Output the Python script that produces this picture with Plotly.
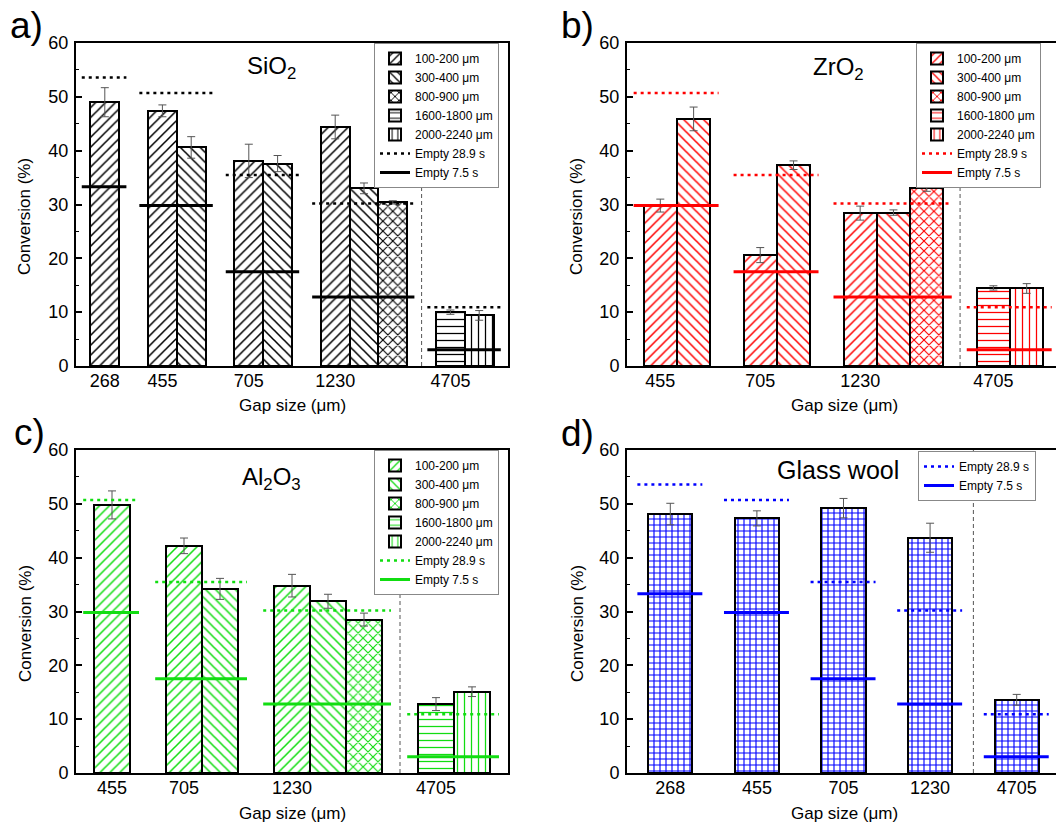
import plotly.graph_objects as go

W, H = 1056, 825
FONT = "Liberation Sans, Arial, sans-serif"

# ---------------- data ----------------
size_labels = ["100-200 μm", "300-400 μm", "800-900 μm", "1600-1800 μm", "2000-2240 μm"]
size_shapes = ["/", "\\", "x", "-", "|"]
shape_solidity = {"/": 0.22, "\\": 0.22, "x": 0.3, "-": 0.18, "|": 0.18}

# empty reactor references, by gap size
empty_gaps = ["268", "455", "705", "1230", "4705"]
empty_28_9 = [53.6, 50.7, 35.5, 30.2, 10.9]
empty_7_5 = [33.3, 29.8, 17.5, 12.8, 3.0]

# a) SiO2
sio2_gaps = ["268", "455", "705", "1230", "4705"]
sio2_100_200 = [49.0, 47.4, 38.1, 44.4, None]
sio2_300_400 = [None, 40.6, 37.6, 33.0, None]
sio2_800_900 = [None, None, None, 30.4, None]
sio2_1600_1800 = [None, None, None, None, 10.0]
sio2_2000_2240 = [None, None, None, None, 9.4]
sio2_100_200_err = [2.7, 1.1, 3.1, 2.2, None]
sio2_300_400_err = [None, 2.0, 1.5, 1.0, None]
sio2_800_900_err = [None, None, None, 0.3, None]
sio2_1600_1800_err = [None, None, None, None, 0.4]
sio2_2000_2240_err = [None, None, None, None, 0.9]

# b) ZrO2
zro2_gaps = ["455", "705", "1230", "4705"]
zro2_100_200 = [29.8, 20.6, 28.4, None]
zro2_300_400 = [45.9, 37.3, 28.5, None]
zro2_800_900 = [None, None, 33.1, None]
zro2_1600_1800 = [None, None, None, 14.5]
zro2_2000_2240 = [None, None, None, 14.4]
zro2_100_200_err = [1.2, 1.4, 1.3, None]
zro2_300_400_err = [2.2, 0.8, 0.5, None]
zro2_800_900_err = [None, None, 0.65, None]
zro2_1600_1800_err = [None, None, None, 0.4]
zro2_2000_2240_err = [None, None, None, 0.9]

# c) Al2O3
al2o3_gaps = ["455", "705", "1230", "4705"]
al2o3_100_200 = [49.8, 42.2, 34.8, None]
al2o3_300_400 = [None, 34.2, 31.9, None]
al2o3_800_900 = [None, None, 28.5, None]
al2o3_1600_1800 = [None, None, None, 12.8]
al2o3_2000_2240 = [None, None, None, 15.1]
al2o3_100_200_err = [2.6, 1.45, 2.1, None]
al2o3_300_400_err = [None, 1.95, 1.3, None]
al2o3_800_900_err = [None, None, 1.2, None]
al2o3_1600_1800_err = [None, None, None, 1.2]
al2o3_2000_2240_err = [None, None, None, 0.9]

# d) Glass wool
gw_gaps = ["268", "455", "705", "1230", "4705"]
gw_values = [48.1, 47.3, 49.2, 43.7, 13.6]
gw_err = [2.0, 1.4, 1.8, 2.7, 1.0]


def px(x):
    return x / W


def py(y):
    return 1 - y / H


fig = go.Figure()
annotations = []
shapes = []
layout = {}


def axis_common():
    return dict(showline=True, linecolor="black", linewidth=2, showgrid=False,
                zeroline=False, automargin=False, fixedrange=True,
                tickfont=dict(size=18, family=FONT, color="black"))


def add_lines(n, gaps, spans, color):
    xa = "x" if n == 1 else f"x{n}"
    ya = "y" if n == 1 else f"y{n}"
    lg = "legend" if n == 1 else f"legend{n}"
    for name, vals, dash, lw in [("Empty 28.9 s", empty_28_9, "3px,4px", 2.5),
                                 ("Empty 7.5 s", empty_7_5, "solid", 3)]:
        xs, ys = [], []
        for gi, g in enumerate(gaps):
            v = vals[empty_gaps.index(g)]
            x0, x1 = spans[gi]
            xs += [x0, x1, None]
            ys += [v, v, None]
        fig.add_trace(go.Scatter(x=xs, y=ys, mode="lines", name=name, legend=lg,
                                 xaxis=xa, yaxis=ya, hoverinfo="skip",
                                 line=dict(color=color, width=lw, dash=dash)))


def packed_panel(n, gaps, series, errs, color):
    xa = "x" if n == 1 else f"x{n}"
    ya = "y" if n == 1 else f"y{n}"
    lg = "legend" if n == 1 else f"legend{n}"
    cursor = 0.5
    pos = {}
    groups = []
    for gi in range(len(gaps)):
        k = 0
        for si in range(len(series)):
            if series[si][gi] is not None:
                pos[(si, gi)] = cursor + k + 0.5
                k += 1
        groups.append((cursor, cursor + k))
        cursor += k + 1
    for si in range(len(series)):
        xs, ys, es = [], [], []
        for gi in range(len(gaps)):
            if series[si][gi] is not None:
                xs.append(pos[(si, gi)])
                ys.append(series[si][gi])
                es.append(errs[si][gi])
        shp = size_shapes[si]
        fig.add_trace(go.Bar(
            x=xs, y=ys, width=1.0, name=size_labels[si], legend=lg,
            xaxis=xa, yaxis=ya,
            marker=dict(color="white", line=dict(color="black", width=2),
                        pattern=dict(shape=shp, fgcolor=color, fgopacity=1,
                                     bgcolor="white", size=7,
                                     solidity=shape_solidity[shp])),
            error_y=dict(type="data", array=es, visible=True, color="#555",
                         thickness=1, width=4)))
    spans = [(a - 0.3, b + 0.25) for a, b in groups]
    add_lines(n, gaps, spans, color)
    sep = groups[gaps.index("4705")][0] - 0.5
    shapes.append(dict(type="line", xref=xa, yref=f"{ya} domain", x0=sep, x1=sep,
                       y0=0, y1=1, line=dict(color="#555", width=1, dash="4px,3px")))
    return [a + 0.5 for a, b in groups]


def set_axes(n, xdom, ydom, xrange, tickvals, ticktext, mirror_y):
    xk = "xaxis" if n == 1 else f"xaxis{n}"
    yk = "yaxis" if n == 1 else f"yaxis{n}"
    xa = "x" if n == 1 else f"x{n}"
    ya = "y" if n == 1 else f"y{n}"
    xd = axis_common()
    xd.update(domain=xdom, range=xrange, tickvals=tickvals, ticktext=ticktext,
              ticks="", mirror=True, anchor=ya, ticklabelstandoff=-3)
    yd = axis_common()
    yd.update(domain=ydom, range=[0, 60], tick0=0, dtick=10, ticks="inside",
              ticklen=6, tickwidth=1.5, tickcolor="black", mirror=mirror_y,
              ticklabelstandoff=2,
              minor=dict(dtick=5, ticks="inside", ticklen=3, tickwidth=1.2,
                         tickcolor="black", showgrid=False),
              anchor=xa)
    layout[xk] = xd
    layout[yk] = yd


dom_top = [py(366), py(43)]
dom_bot = [py(773), py(450)]
dom_left = [px(76), px(508)]
dom_right = [px(627), 1.0]

# a) SiO2 - black
tv = packed_panel(1, sio2_gaps,
                  [sio2_100_200, sio2_300_400, sio2_800_900, sio2_1600_1800, sio2_2000_2240],
                  [sio2_100_200_err, sio2_300_400_err, sio2_800_900_err,
                   sio2_1600_1800_err, sio2_2000_2240_err],
                  "black")
set_axes(1, dom_left, dom_top, [0, 15], tv, sio2_gaps, True)

# b) ZrO2 - red
tv = packed_panel(2, zro2_gaps,
                  [zro2_100_200, zro2_300_400, zro2_800_900, zro2_1600_1800, zro2_2000_2240],
                  [zro2_100_200_err, zro2_300_400_err, zro2_800_900_err,
                   zro2_1600_1800_err, zro2_2000_2240_err],
                  "#ff0000")
set_axes(2, dom_right, dom_top, [0, 12.88], tv, zro2_gaps, False)

# c) Al2O3 - green
tv = packed_panel(3, al2o3_gaps,
                  [al2o3_100_200, al2o3_300_400, al2o3_800_900, al2o3_1600_1800, al2o3_2000_2240],
                  [al2o3_100_200_err, al2o3_300_400_err, al2o3_800_900_err,
                   al2o3_1600_1800_err, al2o3_2000_2240_err],
                  "#11dd11")
set_axes(3, dom_left, dom_bot, [0, 12], tv, al2o3_gaps, True)

# d) Glass wool - blue grid
centers = [0.5 + i for i in range(len(gw_gaps))]
fig.add_trace(go.Bar(
    x=centers, y=gw_values, width=0.51, name="Glass wool", showlegend=False,
    legend="legend4", xaxis="x4", yaxis="y4",
    marker=dict(color="white", line=dict(color="black", width=2),
                pattern=dict(shape="+", fgcolor="#0000ff", fgopacity=1,
                             bgcolor="white", size=6, solidity=0.34)),
    error_y=dict(type="data", array=gw_err, visible=True, color="#555",
                 thickness=1, width=4)))
add_lines(4, gw_gaps, [(c - 0.38, c + 0.37) for c in centers], "#0000ff")
sep_d = (centers[3] + centers[4]) / 2
shapes.append(dict(type="line", xref="x4", yref="y4 domain", x0=sep_d, x1=sep_d,
                   y0=0, y1=1, line=dict(color="#555", width=1, dash="4px,3px")))
set_axes(4, dom_right, dom_bot, [0, 4.954], centers, gw_gaps, False)

# legends
leg_common = dict(bgcolor="white", bordercolor="#888", borderwidth=1,
                  font=dict(size=12, family=FONT, color="black"),
                  tracegroupgap=0, itemwidth=30, traceorder="normal")
layout["legend"] = dict(leg_common, x=px(499), xanchor="right", y=py(43), yanchor="top")
layout["legend2"] = dict(leg_common, x=px(916), xanchor="left", y=py(43), yanchor="top")
layout["legend3"] = dict(leg_common, x=px(499), xanchor="right", y=py(450), yanchor="top")
layout["legend4"] = dict(leg_common, x=px(918), xanchor="left", y=py(451), yanchor="top")

# annotations: panel letters, titles, axis titles
for txt, x, y in [("a)", 8, 26), ("b)", 559, 26), ("c)", 12, 432), ("d)", 559, 434)]:
    annotations.append(dict(text=txt, x=px(x), y=py(y), xref="paper", yref="paper",
                            xanchor="left", yanchor="middle", showarrow=False,
                            font=dict(size=37, family=FONT, color="black")))
for txt, x, y, fs in [("SiO<sub>2</sub>", 271, 68, 24), ("ZrO<sub>2</sub>", 838, 69, 24),
                      ("Al<sub>2</sub>O<sub>3</sub>", 271, 479, 24),
                      ("Glass wool", 838, 470, 25)]:
    annotations.append(dict(text=txt, x=px(x), y=py(y), xref="paper", yref="paper",
                            xanchor="center", yanchor="middle", showarrow=False,
                            font=dict(size=fs, family=FONT, color="black")))
for x, y in [(25, 217), (577, 217), (25, 624), (577, 624)]:
    annotations.append(dict(text="Conversion (%)", x=px(x), y=py(y), xref="paper",
                            yref="paper", textangle=-90, xanchor="center",
                            yanchor="middle", showarrow=False,
                            font=dict(size=17, family=FONT, color="black")))
for x, y in [(292, 405), (844, 405), (292, 813), (844, 813)]:
    annotations.append(dict(text="Gap size (μm)", x=px(x), y=py(y), xref="paper",
                            yref="paper", xanchor="center", yanchor="middle",
                            showarrow=False,
                            font=dict(size=17, family=FONT, color="black")))

fig.update_layout(
    width=W, height=H, autosize=False,
    margin=dict(l=0, r=0, t=0, b=0, pad=0, autoexpand=False),
    paper_bgcolor="white", plot_bgcolor="white",
    barmode="overlay", bargap=0,
    font=dict(family=FONT, color="black"),
    annotations=annotations, shapes=shapes,
    **layout,
)

fig.write_html("out.html",
               config={"displayModeBar": False},
               post_script="document.body.style.margin='0';"
                           "document.body.style.overflow='hidden';")
